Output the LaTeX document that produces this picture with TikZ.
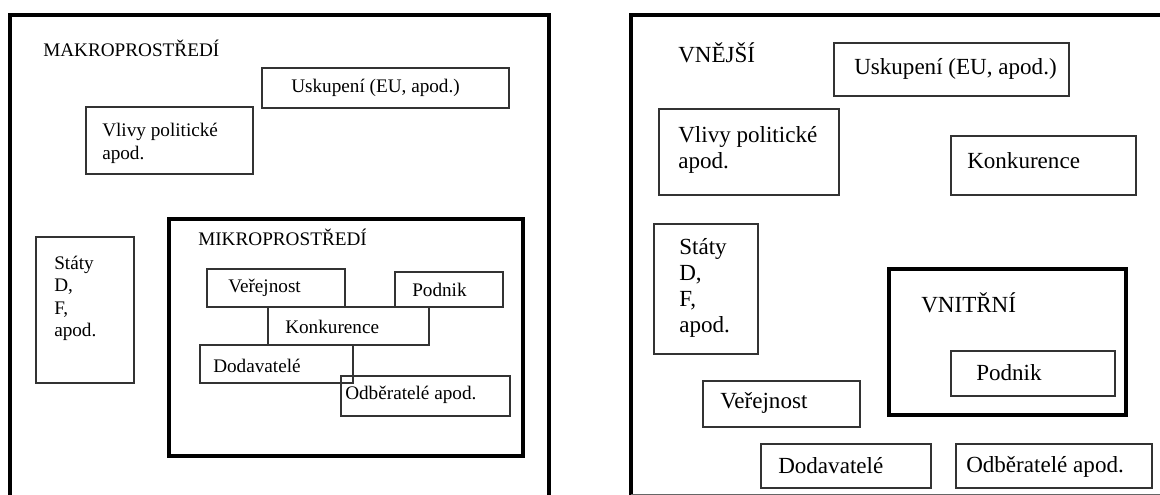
\documentclass[tikz,border=0pt]{standalone}
\usepackage{fontspec}
\setmainfont{Liberation Serif}
\begin{document}
\begin{tikzpicture}[x=0.75pt,y=-0.75pt,
  frame/.style={line width=3pt},
  box/.style={line width=0.8pt, draw=black!80},
  txtL/.style={anchor=west, inner sep=0pt, align=left, font=\fontsize{14.4}{16.9}\selectfont},
  txtR/.style={anchor=west, inner sep=0pt, align=left, font=\fontsize{17.3}{19.5}\selectfont},
  capL/.style={anchor=base west, inner sep=0pt, font=\fontsize{14.4}{16.9}\selectfont},
  capR/.style={anchor=base west, inner sep=0pt, font=\fontsize{17.3}{19.5}\selectfont}]
\useasboundingbox (0,0) rectangle (1160,495);
\clip (0,0) rectangle (1160,495);
% makroprostredi
\draw[frame] (10,500) -- (10,15) -- (549,15) -- (549,500);
\node[capL] (makro) at (43,57) {MAKROPROSTŘEDÍ};
\draw[box] (262,68) rectangle (509,108);
\node[txtL] (uskL) at (291,88) {Uskupení (EU, apod.)};
\draw[box] (86,107) rectangle (253,174);
\node[txtL] (vlivyL) at (102,143.5) {Vlivy politické\\apod.};
\draw[box] (36,237) rectangle (134,383);
\node[txtL] (statyL) at (54,298.5) {Státy\\D,\\F,\\apod.};
\draw[frame] (169,219) rectangle (523,456);
\node[capL] (mikro) at (198,246) {MIKROPROSTŘEDÍ};
\draw[box] (207,269) rectangle (345,307);
\node[txtL] (verejL) at (228,288) {Veřejnost};
\draw[box] (395,272) rectangle (503,307);
\node[txtL] (podnikL) at (412,290) {Podnik};
\draw[box] (268,307) rectangle (429,345);
\node[txtL] (konkL) at (285,327) {Konkurence};
\draw[box] (200,345) rectangle (353,383);
\node[txtL] (dodL) at (213,366) {Dodavatelé};
\draw[box] (341,376) rectangle (510,416);
\node[txtL] (odbL) at (345,395) {Odběratelé apod.};
% vnejsi / vnitrni
\draw[frame] (631,500) -- (631,15) -- (1165,15);
\draw[line width=0.6pt, black!60] (631,494.5) -- (1160,494.5);
\node[capR] (vnejsi) at (678,63) {VNĚJŠÍ};
\draw[box] (834,43) rectangle (1069,96);
\node[txtR] (uskR) at (854,69) {Uskupení (EU, apod.)};
\draw[box] (659,109) rectangle (839,195);
\node[txtR] (vlivyR) at (678,150) {Vlivy politické\\apod.};
\draw[box] (951,136) rectangle (1136,195);
\node[txtR] (konkR) at (967,161) {Konkurence};
\draw[box] (654,224) rectangle (758,354);
\node[txtR] (statyR) at (679,288) {Státy\\D,\\F,\\apod.};
\draw[frame] (889,269) rectangle (1126,415);
\node[capR] (vnitrni) at (921,312) {VNITŘNÍ};
\draw[box] (951,351) rectangle (1115,396);
\node[txtR] (podnikR) at (976,373) {Podnik};
\draw[box] (703,381) rectangle (860,427);
\node[txtR] (verejR) at (720,403) {Veřejnost};
\draw[box] (761,444) rectangle (931,488);
\node[txtR] (dodR) at (778,466) {Dodavatelé};
\draw[box] (956,444) rectangle (1152,488);
\node[txtR] (odbR) at (966,467) {Odběratelé apod.};
\end{tikzpicture}
\end{document}
